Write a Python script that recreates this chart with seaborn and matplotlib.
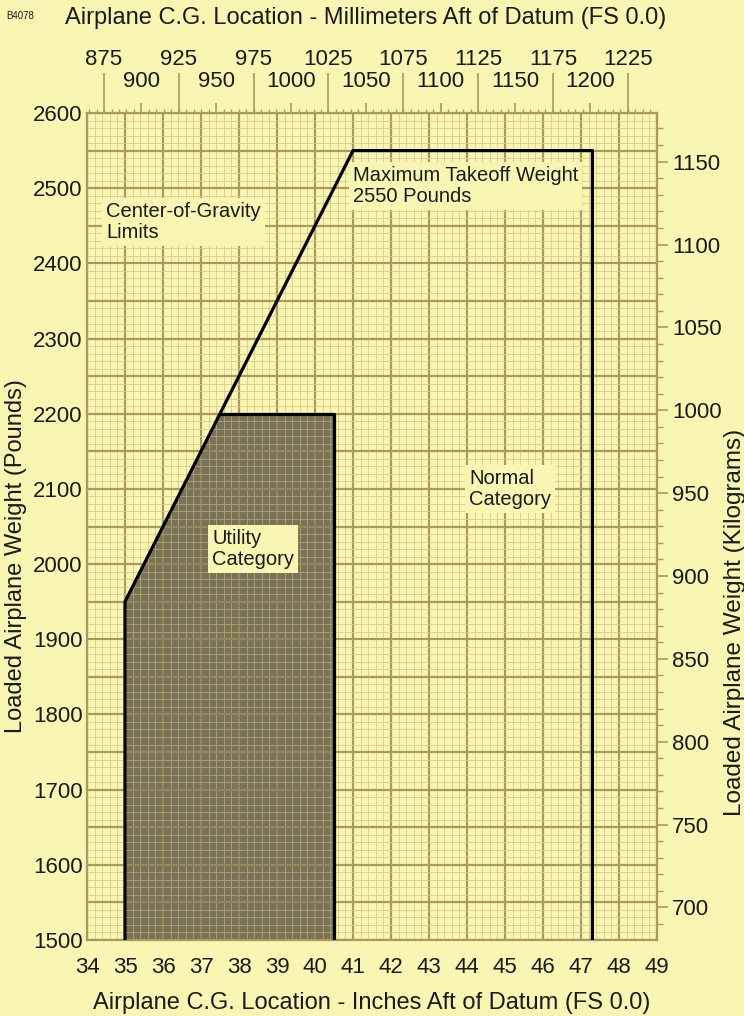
import numpy as np
import pandas as pd
import matplotlib
matplotlib.use("Agg")
import matplotlib.pyplot as plt
import seaborn as sns
from matplotlib.ticker import MultipleLocator, FuncFormatter

# ===== DADOS =====
normal_x = [35.0, 35.0, 41.0, 47.3, 47.3]
normal_y = [1500, 1950, 2550, 2550, 1500]
utility_x = [35.0, 35.0, 37.5, 40.5, 40.5]
utility_y = [1500, 1950, 2200, 2200, 1500]

x_ticks_in = list(range(34, 50))
mm_top_row = [875, 925, 975, 1025, 1075, 1125, 1175, 1225]
mm_low_row = [900, 950, 1000, 1050, 1100, 1150, 1200]
kg_ticks = [700, 750, 800, 850, 900, 950, 1000, 1050, 1100, 1150]

labels = [
    ("Center-of-Gravity\nLimits", 34.5, 2482),
    ("Maximum Takeoff Weight\n2550 Pounds", 41.0, 2530),
    ("Normal\nCategory", 44.05, 2127),
    ("Utility\nCategory", 37.3, 2047),
]

# ===== ESTILO =====
BG = "#f9f5b2"
GRID_MAJOR = "#aa9a60"
GRID_MINOR = "#d8cc8a"
FILL = "#7a7357"
TXT = "#1a1a1a"

sns.set_theme(style="ticks")
plt.rcParams["font.family"] = ["Liberation Sans", "DejaVu Sans"]


def in_to_mm(x):
    return np.asarray(x) * 25.4


def mm_to_in(x):
    return np.asarray(x) / 25.4


def lb_to_kg(y):
    return np.asarray(y) * 0.45359237


def kg_to_lb(y):
    return np.asarray(y) / 0.45359237


fig = plt.figure(figsize=(7.44, 10.16), dpi=100, facecolor=BG)
ax = fig.add_axes([87 / 744, 1 - 940 / 1016, 570 / 744, 827 / 1016])
ax.set_facecolor(BG)

# area utility (sombreada): base abaixo da grade + veu por cima
ax.fill(utility_x, utility_y, color=FILL, alpha=1.0, zorder=0.4, lw=0)
ax.fill(utility_x, utility_y, color=FILL, alpha=0.45, zorder=0.8, lw=0)

# envelopes
df_normal = pd.DataFrame({"x": normal_x, "y": normal_y})
df_util = pd.DataFrame({"x": utility_x[2:], "y": utility_y[2:]})
sns.lineplot(data=df_normal, x="x", y="y", sort=False, estimator=None,
             color="black", linewidth=2.3, ax=ax, zorder=3)
sns.lineplot(data=df_util, x="x", y="y", sort=False, estimator=None,
             color="black", linewidth=2.3, ax=ax, zorder=3)
ax.set_xlim(34, 49)
ax.set_ylim(1500, 2600)
ax.set_xlabel("")
ax.set_ylabel("")

# grade milimetrada
ax.set_xticks(x_ticks_in)
ax.xaxis.set_minor_locator(MultipleLocator(0.2))
ax.yaxis.set_major_locator(MultipleLocator(50))
ax.yaxis.set_minor_locator(MultipleLocator(10))
ax.set_axisbelow(True)
ax.grid(which="major", color=GRID_MAJOR, linewidth=1.6)
ax.grid(which="minor", color=GRID_MINOR, linewidth=0.6)
ax.yaxis.set_major_formatter(FuncFormatter(lambda v, p: f"{int(v)}" if v % 100 == 0 else ""))
ax.tick_params(axis="both", which="both", length=0, labelsize=16, colors=TXT)
ax.tick_params(axis="x", pad=12)
ax.tick_params(axis="y", pad=3)
for s in ax.spines.values():
    s.set_color(GRID_MAJOR)
    s.set_linewidth(1.6)

for txt, x, y in labels:
    ax.text(x, y, txt, ha="left", va="top", fontsize=14.5, color=TXT,
            linespacing=1.15, zorder=4,
            bbox=dict(boxstyle="square,pad=0.2", fc=BG, ec="none"))

# eixo superior em milimetros (duas fileiras)
top1 = ax.secondary_xaxis("top", functions=(in_to_mm, mm_to_in))
top1.set_xticks(mm_top_row)
top1.tick_params(length=29, width=1.2, color=GRID_MAJOR, pad=2, labelsize=16, labelcolor=TXT)
top1.spines["top"].set_color(GRID_MAJOR)

top2 = ax.secondary_xaxis("top", functions=(in_to_mm, mm_to_in))
top2.set_xticks(mm_low_row)
top2.xaxis.set_minor_locator(MultipleLocator(5))
top2.tick_params(which="major", length=7, width=1.2, color=GRID_MAJOR, pad=8, labelsize=16, labelcolor=TXT)
top2.tick_params(which="minor", length=3, width=1, color=GRID_MAJOR)
top2.spines["top"].set_color(GRID_MAJOR)

# eixo direito em kg
right = ax.secondary_yaxis("right", functions=(lb_to_kg, kg_to_lb))
right.set_yticks(kg_ticks)
right.yaxis.set_minor_locator(MultipleLocator(10))
right.tick_params(which="major", length=8, width=1.2, color=GRID_MAJOR, pad=3, labelsize=16, labelcolor=TXT)
right.tick_params(which="minor", length=4, width=1, color=GRID_MAJOR)
right.spines["right"].set_color(GRID_MAJOR)

# titulos dos eixos
fig.text(372 / 744, 1 - 1003 / 1016, "Airplane C.G. Location - Inches Aft of Datum (FS 0.0)",
         ha="center", va="center", fontsize=17, color=TXT)
fig.text(16 / 744, 1 - 556 / 1016, "Loaded Airplane Weight (Pounds)",
         ha="center", va="center", rotation=90, fontsize=17, color=TXT)
fig.text(735 / 744, 1 - 622 / 1016, "Loaded Airplane Weight (Kilograms)",
         ha="center", va="center", rotation=90, fontsize=17.5, color=TXT)
fig.text(366 / 744, 1 - 18 / 1016, "Airplane C.G. Location - Millimeters Aft of Datum (FS 0.0)",
         ha="center", va="center", fontsize=17, color=TXT)
fig.text(6 / 744, 1 - 16 / 1016, "B4078", ha="left", va="center", fontsize=7, color=TXT)

fig.savefig("out.png", dpi=100, facecolor=BG)
